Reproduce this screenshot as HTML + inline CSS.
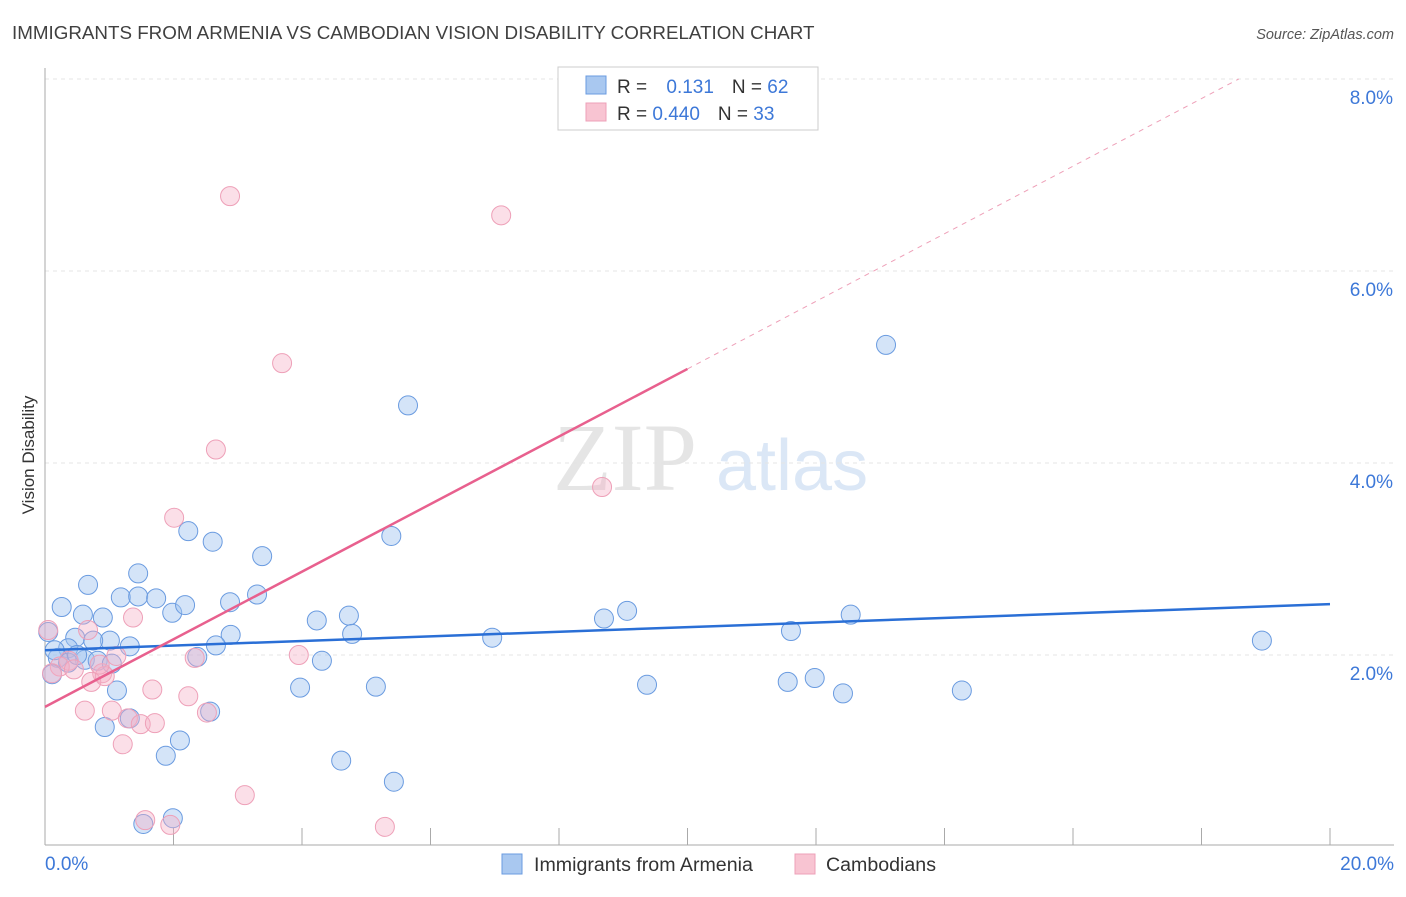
<!DOCTYPE html>
<html><head><meta charset="utf-8"><style>
body{margin:0;background:#fff;font-family:"Liberation Sans",sans-serif}
</style></head><body>
<svg id="chart" width="1406" height="892" xmlns="http://www.w3.org/2000/svg" font-family="Liberation Sans, sans-serif">
<text x="12" y="39" font-size="18.8" fill="#404040">IMMIGRANTS FROM ARMENIA VS CAMBODIAN VISION DISABILITY CORRELATION CHART</text>
<text x="1394" y="39" font-size="14.5" fill="#555" font-style="italic" text-anchor="end">Source: ZipAtlas.com</text>
<text transform="translate(34,455) rotate(-90)" font-size="17" fill="#333" text-anchor="middle">Vision Disability</text>
<g font-size="96" opacity="0.5">
<text x="553" y="490" fill="#ccc" font-family="Liberation Serif, serif">ZIP</text>
<text x="716" y="490" fill="#b9d0ee" font-size="72">atlas</text>
</g>
<g id="grid"></g><g id="axes"></g><g id="marks"></g>
<g>
<rect x="558" y="67" width="260" height="63" fill="#fff" stroke="#ccc"/>
<rect x="586" y="76" width="20" height="18" fill="#a9c8f0" stroke="#6a9be0"/>
<rect x="586" y="103" width="20" height="18" fill="#f8c4d2" stroke="#eea0b8"/>
<text x="617" y="93" font-size="19" fill="#333">R = <tspan fill="#3d78d8" dx="14">0.131</tspan><tspan dx="18" fill="#333">N = </tspan><tspan fill="#3d78d8">62</tspan></text>
<text x="617" y="120" font-size="19" fill="#333">R = <tspan fill="#3d78d8">0.440</tspan><tspan dx="18" fill="#333">N = </tspan><tspan fill="#3d78d8">33</tspan></text>
</g>
<g font-size="19.6" fill="#333">
<rect x="502" y="854" width="20" height="20" fill="#a9c8f0" stroke="#6a9be0"/>
<text x="534" y="871">Immigrants from Armenia</text>
<rect x="795" y="854" width="20" height="20" fill="#f8c4d2" stroke="#eea0b8"/>
<text x="826" y="871">Cambodians</text>
</g>
</svg>
<script>
const xTickLabels=["0.0%","20.0%"];
const yTicks=[2,4,6,8];
const yTickLabels=["2.0%","4.0%","6.0%","8.0%"];
const armeniaX=[0.26,0.67,0.59,0.47,0.90,1.01,1.18,1.45,1.45,1.73,1.98,2.18,2.23,2.61,2.88,3.30,3.38,2.89,2.66,1.32,0.75,0.36,0.20,0.62,0.82,1.04,0.11,1.12,0.93,1.32,2.57,2.10,1.88,1.99,1.53,2.37,3.97,4.23,4.31,4.73,4.78,4.61,5.15,5.39,5.43,5.65,6.96,8.70,9.06,9.37,11.56,11.61,11.98,12.42,12.54,13.09,14.27,18.94,0.36,0.05,0.5,0.15];
const armeniaY=[2.50,2.73,2.42,2.18,2.39,2.15,2.60,2.85,2.61,2.59,2.44,2.52,3.29,3.18,2.55,2.63,3.03,2.21,2.10,2.09,2.15,2.07,1.97,1.95,1.94,1.91,1.80,1.63,1.25,1.34,1.41,1.11,0.95,0.30,0.24,1.98,1.66,2.36,1.94,2.41,2.22,0.90,1.67,3.24,0.68,4.60,2.18,2.38,2.46,1.69,1.72,2.25,1.76,1.60,2.42,5.23,1.63,2.15,1.92,2.24,2.0,2.05];
const cambX=[2.88,7.10,3.69,2.66,2.01,8.67,1.37,0.67,1.11,2.33,3.95,0.89,0.72,0.93,0.37,0.23,0.11,0.05,1.67,2.23,0.62,1.04,1.29,1.49,1.71,2.52,1.21,3.11,1.56,1.95,5.29,0.85,0.45];
const cambY=[6.78,6.58,5.04,4.14,3.43,3.75,2.39,2.26,1.99,1.97,2.00,1.81,1.72,1.78,1.94,1.88,1.81,2.26,1.64,1.57,1.42,1.42,1.34,1.28,1.29,1.40,1.07,0.54,0.28,0.23,0.21,1.90,1.85];
const armeniaTrend=[2.05,2.53];
const cambTrend=[1.46,4.98];
const X0=45,X1=1330,Y0=847,PX=64.25,PY=96;
const sx=v=>X0+v*PX, sy=v=>Y0-v*PY;
const NS="http://www.w3.org/2000/svg";
function mk(t,a,p){const e=document.createElementNS(NS,t);for(const k in a)e.setAttribute(k,a[k]);p.appendChild(e);return e;}
const grid=document.getElementById('grid'),axes=document.getElementById('axes'),marks=document.getElementById('marks');
yTicks.forEach((v,i)=>{
 const l=mk('line',{x1:X0,x2:1394,y1:sy(v),y2:sy(v),stroke:'#e4e4e4','stroke-dasharray':'4,4'},grid);
 
 
 const t=mk('text',{x:1393,y:sy(v)+25,'font-size':19,fill:'#3d78d8','text-anchor':'end'},axes);
 t.textContent=yTickLabels[i];
 
 
});
const ax=mk('line',{x1:X0,x2:X0,y1:68,y2:845,stroke:'#aaa'},axes);


const bx=mk('line',{x1:X0,x2:1394,y1:845,y2:845,stroke:'#aaa'},axes);


for(let i=0;i<=10;i++){const t=mk('line',{x1:sx(i*2),x2:sx(i*2),y1:828,y2:845,stroke:'#aaa'},axes);
 
 }
[[0,'start',45],[20,'end',1394]].forEach((d,i)=>{const t=mk('text',{x:d[2],y:870,'font-size':19,fill:'#3d78d8','text-anchor':d[1]},axes);t.textContent=xTickLabels[i];
 
 });
armeniaX.forEach((x,i)=>{const c=mk('circle',{cx:sx(x),cy:sy(armeniaY[i]),r:9.5,fill:'rgba(160,196,240,0.45)',stroke:'#6a9be0','stroke-width':1},marks);
 
 });
cambX.forEach((x,i)=>{const c=mk('circle',{cx:sx(x),cy:sy(cambY[i]),r:9.5,fill:'rgba(245,175,198,0.4)',stroke:'#eea0b8','stroke-width':1},marks);
 
 });
const bl=mk('line',{x1:sx(0),y1:sy(armeniaTrend[0]),x2:sx(20),y2:sy(armeniaTrend[1]),stroke:'#2a6fd6','stroke-width':2.5},marks);


const slope=(cambTrend[1]-cambTrend[0])/20*2;
const pl=mk('line',{x1:sx(0),y1:sy(cambTrend[0]),x2:sx(10),y2:sy(cambTrend[0]+slope*10),stroke:'#e8608e','stroke-width':2.5},marks);


const xe=(8-cambTrend[0])/slope;
const pd=mk('line',{x1:sx(10),y1:sy(cambTrend[0]+slope*10),x2:sx(xe),y2:sy(8),stroke:'#eea0b8','stroke-width':1,'stroke-dasharray':'5,5'},marks);


</script>
</body></html>
